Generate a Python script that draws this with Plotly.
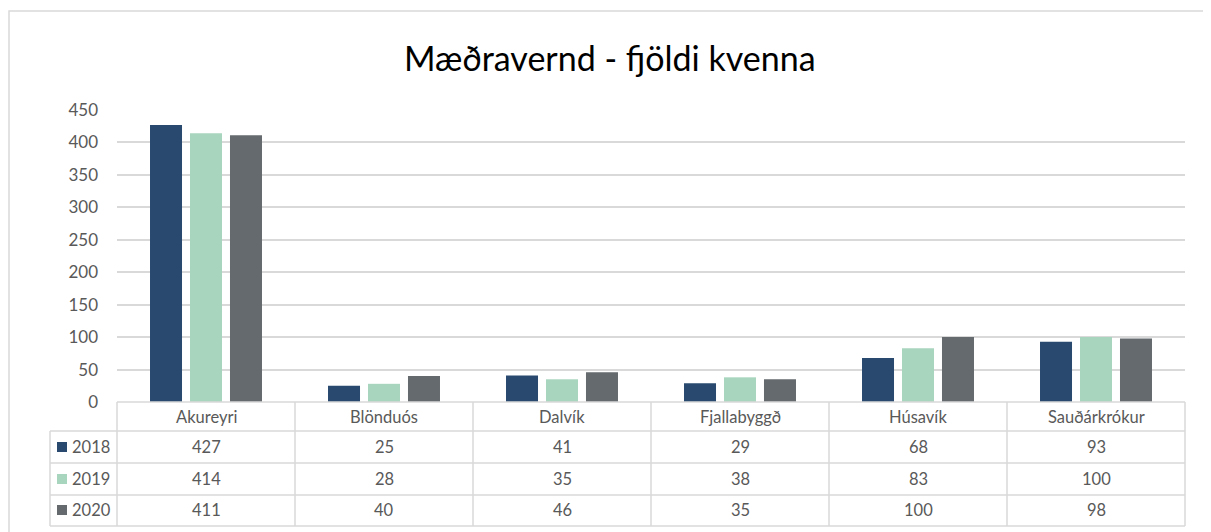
import plotly.graph_objects as go

categories = ["Akureyri", "Blönduós", "Dalvík", "Fjallabyggð", "Húsavík", "Sauðárkrókur"]
years = ["2018", "2019", "2020"]
v2018 = [427, 25, 41, 29, 68, 93]
v2019 = [414, 28, 35, 38, 83, 100]
v2020 = [411, 40, 46, 35, 100, 98]
series = [v2018, v2019, v2020]
colors = ["#294a6e", "#a8d5bd", "#646a6e"]
yticks = [0, 50, 100, 150, 200, 250, 300, 350, 400, 450]

OFF = 8  # page body margin
W, H = 1211 - OFF, 532 - OFF
# plot area in screen pixels
L, R, T, B = 117, 1185, 110, 402
FONT = "Lato, Open Sans, sans-serif"
TXT = "#595959"
GRID = "#d9d9d9"
TFS = 16.5

def px_x(px):
    return (px - L) / (R - L)

def px_y(py):
    return (B - py) / (B - T)

fig = go.Figure()
for name, vals, c in zip(years, series, colors):
    fig.add_trace(go.Bar(x=categories, y=vals, name=name, marker=dict(color=c, line=dict(width=0)),
                         showlegend=False))

shapes = []
annotations = []
# outer border
shapes.append(dict(type="rect", xref="paper", yref="paper", x0=px_x(OFF + 1), x1=px_x(1240),
                   y0=px_y(560), y1=px_y(11), line=dict(color=GRID, width=1.5), layer="below"))

row_lines = [402, 431, 463, 495, 526]
for i, py in enumerate(row_lines):
    x0 = L if i == 0 else 50
    shapes.append(dict(type="line", xref="paper", yref="paper", x0=px_x(x0), x1=px_x(R),
                       y0=px_y(py), y1=px_y(py), line=dict(color=GRID, width=1.5)))
ncat = len(categories)
cw = (R - L) / ncat
for k in range(ncat + 1):
    xx = L + k * cw
    shapes.append(dict(type="line", xref="paper", yref="paper", x0=px_x(xx), x1=px_x(xx),
                       y0=px_y(402), y1=px_y(526), line=dict(color=GRID, width=1.5)))
shapes.append(dict(type="line", xref="paper", yref="paper", x0=px_x(50), x1=px_x(50),
                   y0=px_y(431), y1=px_y(526), line=dict(color=GRID, width=1.5)))

# header
for cat in categories:
    annotations.append(dict(x=cat, y=px_y(417), xref="x", yref="paper", text=cat, showarrow=False,
                            font=dict(family=FONT, size=TFS, color=TXT), xanchor="center", yanchor="middle"))
row_centers = [447, 479, 510]
for name, vals, c, yc in zip(years, series, colors, row_centers):
    shapes.append(dict(type="rect", xref="paper", yref="paper", x0=px_x(57), x1=px_x(67),
                       y0=px_y(yc + 5), y1=px_y(yc - 5), line=dict(width=0), fillcolor=c))
    annotations.append(dict(x=px_x(70), y=px_y(yc), xref="paper", yref="paper", text=name, showarrow=False,
                            font=dict(family=FONT, size=TFS, color=TXT), xanchor="left", yanchor="middle"))
    for cat, v in zip(categories, vals):
        annotations.append(dict(x=cat, y=px_y(yc), xref="x", yref="paper", text=str(v), showarrow=False,
                                font=dict(family=FONT, size=TFS, color=TXT), xanchor="center", yanchor="middle"))

annotations.append(dict(x=px_x(610), y=px_y(57), xref="paper", yref="paper", text="Mæðravernd - fjöldi kvenna",
                        showarrow=False, font=dict(family=FONT, size=34, color="#000000"),
                        xanchor="center", yanchor="middle"))

fig.update_layout(
    width=W, height=H,
    margin=dict(l=L - OFF, r=OFF + W - R, t=T - OFF, b=OFF + H - B, autoexpand=False),
    paper_bgcolor="white", plot_bgcolor="white",
    barmode="group", bargap=0.326, bargroupgap=0.2,
    shapes=shapes, annotations=annotations,
    xaxis=dict(showticklabels=False, showgrid=False, zeroline=False, showline=False, ticks=""),
    yaxis=dict(range=[0, 450], tickvals=yticks, showgrid=True, gridcolor=GRID, gridwidth=1.5,
               zeroline=False, showline=False, ticks="",
               tickfont=dict(family=FONT, size=17, color=TXT), ticklabelstandoff=18),
    font=dict(family=FONT),
)

fig.write_html("out.html")
